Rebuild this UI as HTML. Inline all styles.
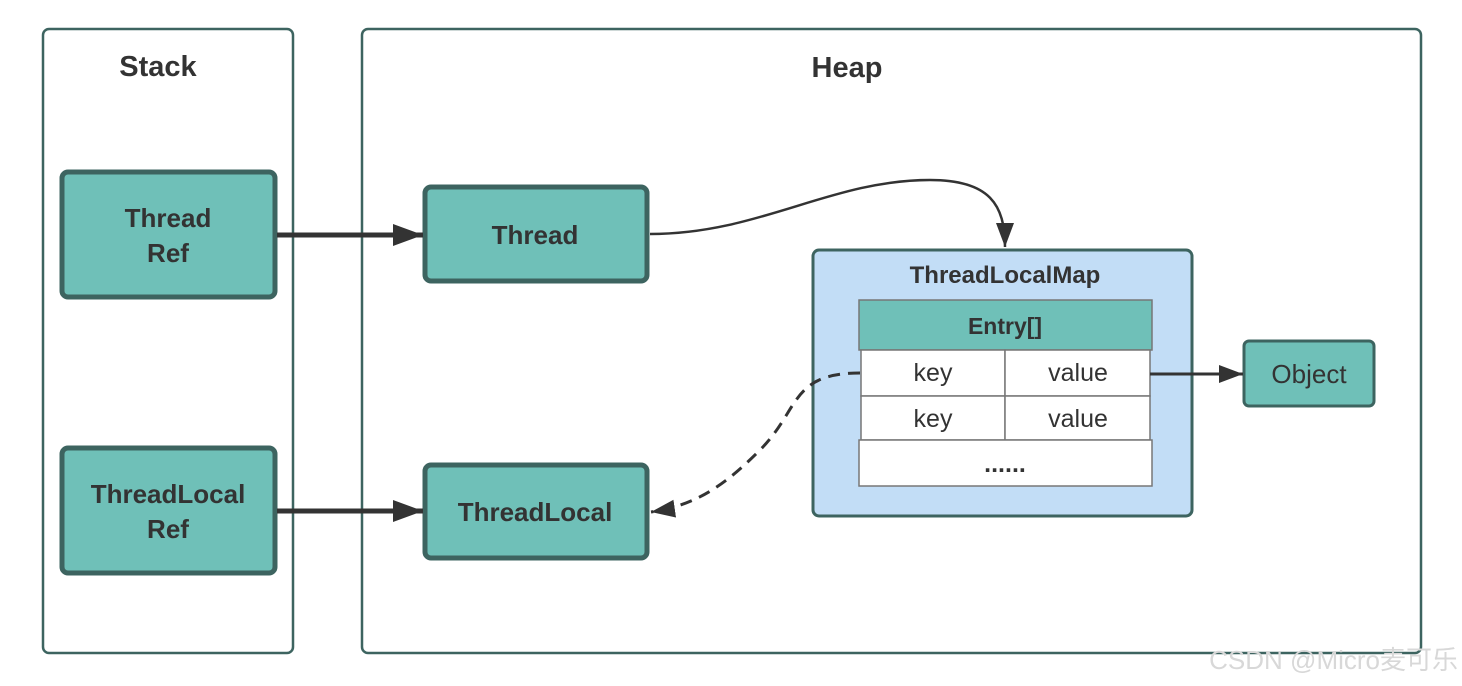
<!DOCTYPE html>
<html><head><meta charset="utf-8"><style>body{margin:0;background:#fff}svg{display:block}text{font-family:"Liberation Sans",sans-serif;fill:#333}</style></head><body>
<svg width="1462" height="686" viewBox="0 0 1462 686">
<defs>
<marker id="a" markerWidth="30" markerHeight="22" refX="30" refY="11" orient="auto" markerUnits="userSpaceOnUse" viewBox="0 0 30 22"><path d="M0,0L30,11L0,22z" fill="#333"/></marker>
<marker id="b" markerWidth="24" markerHeight="18" refX="24" refY="9" orient="auto" markerUnits="userSpaceOnUse" viewBox="0 0 24 18"><path d="M0,0L24,9L0,18z" fill="#333"/></marker>
</defs>
<rect x="43" y="29" width="250" height="624" rx="6" fill="#fff" stroke="#3d6460" stroke-width="2.5"/>
<rect x="362" y="29" width="1059" height="624" rx="6" fill="#fff" stroke="#3d6460" stroke-width="2.5"/>
<text x="158" y="76" font-size="29" font-weight="bold" text-anchor="middle">Stack</text>
<text x="847" y="77" font-size="29" font-weight="bold" text-anchor="middle">Heap</text>
<g fill="#6fc0b8" stroke="#3d6460" stroke-width="5">
<rect x="62" y="172" width="213" height="125" rx="6"/>
<rect x="425" y="187" width="222" height="94" rx="6"/>
<rect x="62" y="448" width="213" height="125" rx="6"/>
<rect x="425" y="465" width="222" height="93" rx="6"/>
</g>
<g font-size="26" font-weight="bold" text-anchor="middle">
<text x="168" y="227">Thread</text><text x="168" y="262">Ref</text>
<text x="535" y="244">Thread</text>
<text x="168" y="503">ThreadLocal</text><text x="168" y="538">Ref</text>
<text x="535" y="521">ThreadLocal</text>
</g>
<rect x="813" y="250" width="379" height="266" rx="6" fill="#c2ddf6" stroke="#3d6460" stroke-width="3"/>
<text x="1005" y="283" font-size="24" font-weight="bold" text-anchor="middle">ThreadLocalMap</text>
<rect x="859" y="300" width="293" height="50" fill="#6fc0b8" stroke="#777" stroke-width="1.5"/>
<text x="1005" y="334" font-size="23" font-weight="bold" text-anchor="middle">Entry[]</text>
<g fill="#fff" stroke="#777" stroke-width="1.5">
<rect x="861" y="350" width="144" height="46"/><rect x="1005" y="350" width="145" height="46"/>
<rect x="861" y="396" width="144" height="44"/><rect x="1005" y="396" width="145" height="44"/>
<rect x="859" y="440" width="293" height="46"/>
</g>
<g font-size="25" text-anchor="middle">
<text x="933" y="381">key</text><text x="1078" y="381">value</text>
<text x="933" y="427">key</text><text x="1078" y="427">value</text>
<text x="1005" y="472" font-weight="bold">......</text>
</g>
<rect x="1244" y="341" width="130" height="65" rx="5" fill="#6fc0b8" stroke="#3d6460" stroke-width="3"/>
<text x="1309" y="383" font-size="26" text-anchor="middle">Object</text>
<g fill="none" stroke="#333">
<path d="M277,235H423" stroke-width="5" marker-end="url(#a)"/>
<path d="M277,511H423" stroke-width="5" marker-end="url(#a)"/>
<path d="M650,234C760,234 830,180 930,180C990,180 1005,205 1005,247" stroke-width="2.5" marker-end="url(#b)"/>
<path d="M1150,374H1243" stroke-width="3" marker-end="url(#b)"/>
<path d="M860,373C790,373 800,410 760,450C730,480 700,505 651,512" stroke-width="3" stroke-dasharray="12,8" marker-end="url(#b)"/>
</g>
<text x="1458" y="669" font-size="26" style="fill:#d8d8d8" text-anchor="end" font-family="Liberation Sans, Noto Sans CJK SC, sans-serif">CSDN @Micro麦可乐</text>
</svg>
</body></html>
